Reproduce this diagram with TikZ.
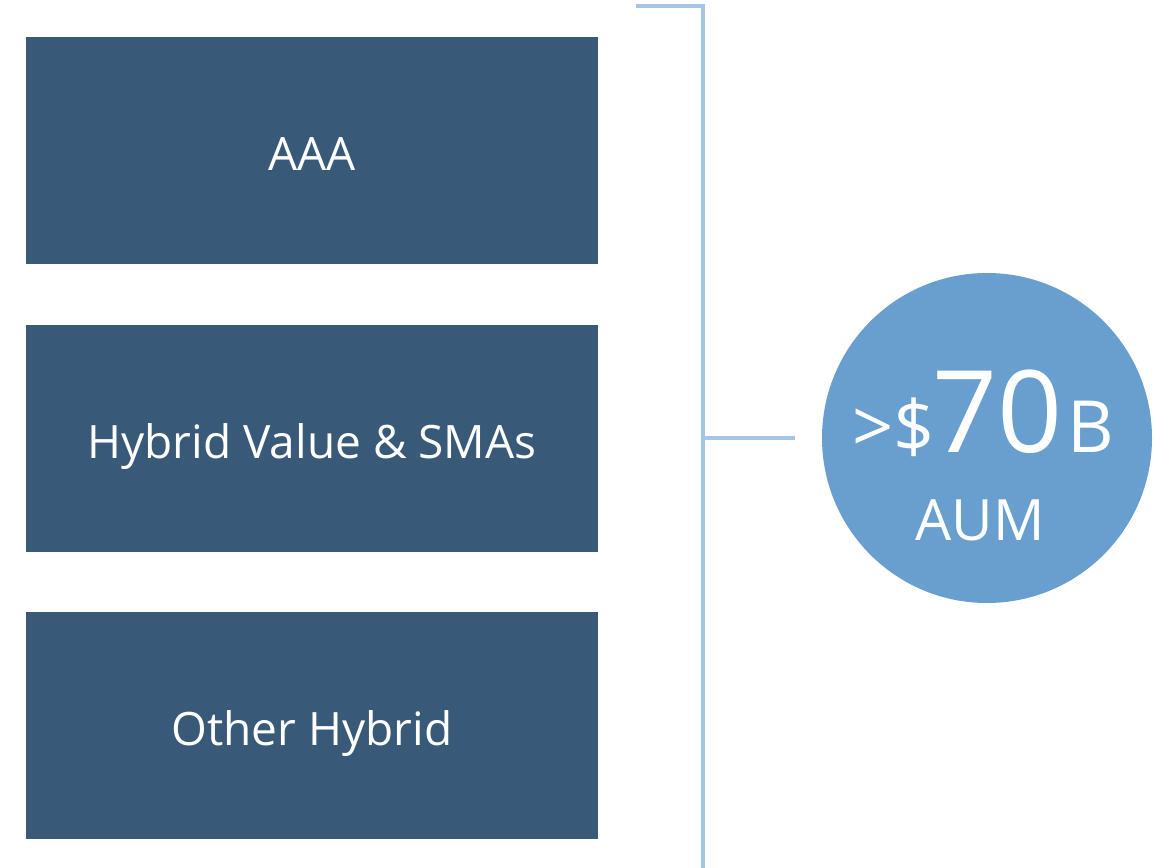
\documentclass[tikz,border=0pt]{standalone}
\usepackage{fontspec}
\setmainfont{Open Sans}
\definecolor{boxblue}{HTML}{385A78}
\definecolor{circblue}{HTML}{689FCF}
\definecolor{linblue}{HTML}{A4C6E6}
\begin{document}
\begin{tikzpicture}[x=1pt,y=-1pt,
  catbox/.style={fill=boxblue, draw=none, minimum width=572pt, minimum height=227pt, inner sep=0pt},
  cattext/.style={anchor=base, inner sep=0pt, text=white, font=\fontsize{46}{52}\selectfont},
  brk/.style={draw=linblue, line width=4pt}]
\useasboundingbox (0,0) rectangle (1171,868);
\node[catbox] (aaa) at (312,150.5) {};
\node[catbox] (hyb) at (312,438.5) {};
\node[catbox] (oth) at (312,725.5) {};
\node[cattext] (aaat) at ([yshift=-19.5pt]aaa.center) {AAA};
\node[cattext] (hybt) at ([yshift=-19.5pt]hyb.center) {Hybrid Value \& SMAs};
\node[cattext] (otht) at ([yshift=-19.5pt]oth.center) {Other Hybrid};
\node[circle, fill=circblue, minimum size=330pt, inner sep=0pt] (circ) at (987,438) {};
\node[anchor=base, text=white, inner sep=0pt] (big) at (983,452) {\fontsize{72}{80}\selectfont >\$\kern-2pt\fontsize{114}{120}\selectfont 70\kern4pt\fontsize{72}{80}\selectfont B};
\node[anchor=base, text=white, inner sep=0pt, font=\fontsize{57}{64}\selectfont] (aum) at (980,540) {AUM};
\coordinate (t0) at (636,6);
\coordinate (t1) at (703,6);
\coordinate (b1) at (703,868);
\coordinate (m0) at (703,438);
\coordinate (m1) at (795,438);
\draw[brk] (t0) -- (t1) -- (b1);
\draw[brk] (m0) -- (m1);
\end{tikzpicture}
\end{document}
